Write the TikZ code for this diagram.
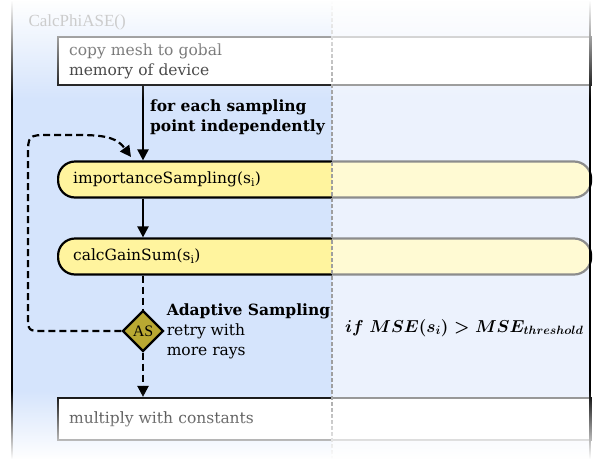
\documentclass[tikz,border=0pt]{standalone}
\usepackage{fontspec}
\setmainfont{DejaVu Serif}
\newfontfamily\capfont{Liberation Serif}
\usetikzlibrary{arrows.meta,shapes.geometric,fadings,positioning}
\definecolor{laneblue}{RGB}{213,228,252}
\definecolor{kernelyellow}{RGB}{255,244,158}
\definecolor{asolive}{RGB}{185,168,50}
\tikzfading[name=fadetop, top color=transparent!0, bottom color=transparent!100]
\tikzfading[name=fadebottom, top color=transparent!100, bottom color=transparent!0]
\newsavebox\msebox

\begin{document}
\sbox\msebox{\fontsize{17}{20}\selectfont\boldmath$if\ MSE(s_i) > MSE_{threshold}$}
\begin{tikzpicture}[x=1pt,y=-1pt,
  font=\fontsize{15.5}{20}\selectfont,
  hostbox/.style={draw=black,line width=2.2pt,fill=white,anchor=west,
    minimum width=533pt,text width=511pt,align=left,inner xsep=11pt},
  kernel/.style={draw=black,line width=2.2pt,fill=kernelyellow,rounded corners=17pt,
    anchor=west,minimum width=533pt,minimum height=36pt,text width=503pt,
    align=left,inner xsep=15pt},
  decide/.style={diamond,draw=black,line width=2.2pt,fill=asolive,
    minimum size=41pt,inner sep=0pt,font=\capfont\fontsize{16}{18}\selectfont},
  flow/.style={line width=2.2pt,-{Triangle[length=11pt,width=11pt]}},
  dashflow/.style={flow,dash pattern=on 7pt off 4pt},
  note/.style={align=left,inner sep=0pt}]

\useasboundingbox (0,0) rectangle (605,459);
\fill[laneblue] (12,0) rectangle (590,459);

\node[hostbox,minimum height=48pt] (copy) at (57,61) {copy mesh to gobal\\memory of device};
\node[kernel] (is) at (57,179.5) {importanceSampling(s\textsubscript{i})};
\node[kernel] (cgs) at (57,256.5) {calcGainSum(s\textsubscript{i})};
\node[decide] (as) at (143,331) {AS};
\node[hostbox,minimum height=42pt] (mult) at (57,419) {multiply with constants};

\coordinate (loopdown) at (28,331);
\coordinate (loopup) at (28,135);
\coordinate (back) at (131,157);

\draw[flow] (copy.south -| as) -- (is.north -| as)
  node[note,pos=0.42,anchor=west,xshift=6pt,font=\bfseries\fontsize{15.5}{20}\selectfont] (each)
  {for each sampling\\point independently};
\draw[flow] (is.south -| as) -- (cgs.north -| as);
\draw[line width=2.2pt,dash pattern=on 7pt off 4pt] (cgs.south -| as) -- (as.north);
\draw[dashflow] (as.south) -- (mult.north -| as);
\draw[dashflow] (as.west) -- ([xshift=16pt]loopdown) .. controls (loopdown) .. ([yshift=16pt]loopdown)
  -- ([yshift=-22pt]loopup) .. controls (loopup) .. ([xshift=22pt]loopup)
  -- ([xshift=52pt]loopup) .. controls ([xshift=80pt]loopup) and (118,139) .. (back);

\node[note,right=2pt of as] (adapt) {\textbf{Adaptive Sampling}\\retry with\\more rays};

% faded right half
\fill[white,fill opacity=0.55] (332,0) rectangle (590,459);
\draw[gray!75,line width=1.2pt,dash pattern=on 4pt off 2pt] (332,0) -- (332,459);
\draw[line width=2.4pt] (12,0) -- (12,459);
\draw[line width=1.6pt] (590,0) -- (590,459);

\fill[white,path fading=fadetop] (0,0) rectangle (605,100);
\fill[white,path fading=fadebottom] (0,390) rectangle (605,459);

\node[anchor=west,text=gray!40,font=\capfont\fontsize{17}{20}\selectfont] (title) at (25,22) {CalcPhiASE()};
\node[anchor=west,inner sep=0pt] (cond) at (345,328) {\usebox\msebox};

\end{tikzpicture}
\end{document}
